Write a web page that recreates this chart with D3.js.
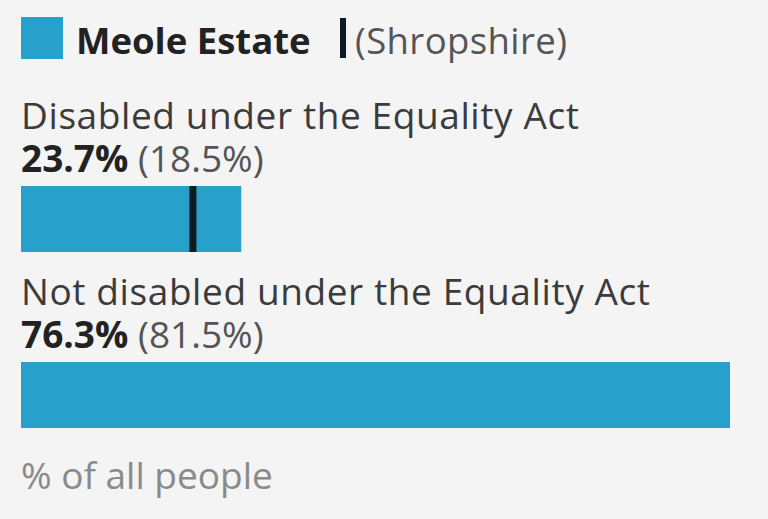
<!DOCTYPE html>
<html>
<head>
<meta charset="utf-8">
<script src="https://cdn.jsdelivr.net/npm/d3@7"></script>
<style>
	html, body { margin: 0; padding: 0; background: #f4f4f4; }
	svg { display: block; font-family: "Open Sans", sans-serif; }
</style>
</head>
<body>
<div id="chart"></div>
<script>
const categories = ["Disabled under the Equality Act", "Not disabled under the Equality Act"];
const areaValues = [23.7, 76.3];
const comparisonValues = [18.5, 81.5];
const areaName = "Meole Estate";
const comparisonName = "Shropshire";
const unitLabel = "% of all people";

const WIDTH = 768;
const HEIGHT = 519;
const BAR_COLOR = "#27a0cc";
const MARKER_COLOR = "#0d1a26";
const FONT_SIZE = 37;
const LEGEND_FONT_SIZE = 36.5;

const svg = d3.select("#chart").append("svg")
	.attr("width", WIDTH)
	.attr("height", HEIGHT);

svg.append("rect")
	.attr("width", WIDTH)
	.attr("height", HEIGHT)
	.attr("fill", "#f4f4f4");

const data = categories.map((c, i) => ({
	category: c,
	value: areaValues[i],
	comparison: comparisonValues[i]
}));

const x = d3.scaleLinear()
	.domain([0, d3.max(areaValues)])
	.range([21, 730]);

const y = d3.scaleBand()
	.domain(categories)
	.range([98, 98 + 176 * categories.length])
	.paddingInner(0);

// legend
const legend = svg.append("g").attr("class", "legend");
legend.append("rect")
	.attr("x", 21).attr("y", 17)
	.attr("width", 42).attr("height", 42)
	.attr("fill", BAR_COLOR);
legend.append("text")
	.attr("x", 76).attr("y", 54)
	.attr("font-size", LEGEND_FONT_SIZE)
	.attr("font-weight", "bold")
	.attr("fill", "#222")
	.text(areaName);
legend.append("rect")
	.attr("x", 340).attr("y", 18)
	.attr("width", 6).attr("height", 40)
	.attr("fill", MARKER_COLOR);
legend.append("text")
	.attr("x", 355).attr("y", 54)
	.attr("font-size", LEGEND_FONT_SIZE)
	.attr("letter-spacing", 0.4)
	.attr("fill", "#555")
	.text(`(${comparisonName})`);

// groups
const groups = svg.append("g")
	.attr("class", "bars")
	.selectAll("g")
	.data(data)
	.join("g")
	.attr("transform", d => `translate(0,${y(d.category)})`);

groups.append("text")
	.attr("x", 21).attr("y", 31)
	.attr("font-size", FONT_SIZE)
	.attr("letter-spacing", 0.6)
	.attr("fill", "#3b3b3b")
	.text(d => d.category);

const valueText = groups.append("text")
	.attr("x", 21).attr("y", 74)
	.attr("font-size", FONT_SIZE);
valueText.append("tspan")
	.attr("font-weight", "bold")
	.attr("fill", "#222")
	.text(d => `${d.value.toFixed(1)}%`);
valueText.append("tspan")
	.attr("fill", "#555")
	.text(d => ` (${d.comparison.toFixed(1)}%)`);

groups.append("rect")
	.attr("class", "bar")
	.attr("x", x(0))
	.attr("y", 88)
	.attr("width", d => x(d.value) - x(0))
	.attr("height", 66)
	.attr("fill", BAR_COLOR);

groups.filter(d => x(d.comparison) <= x.range()[1])
	.append("line")
	.attr("x1", d => x(d.comparison))
	.attr("x2", d => x(d.comparison))
	.attr("y1", 88)
	.attr("y2", 154)
	.attr("stroke", MARKER_COLOR)
	.attr("stroke-width", 7);

svg.append("text")
	.attr("x", 21).attr("y", 489)
	.attr("font-size", FONT_SIZE)
	.attr("fill", "#8a8a8a")
	.text(unitLabel);
</script>
</body>
</html>
